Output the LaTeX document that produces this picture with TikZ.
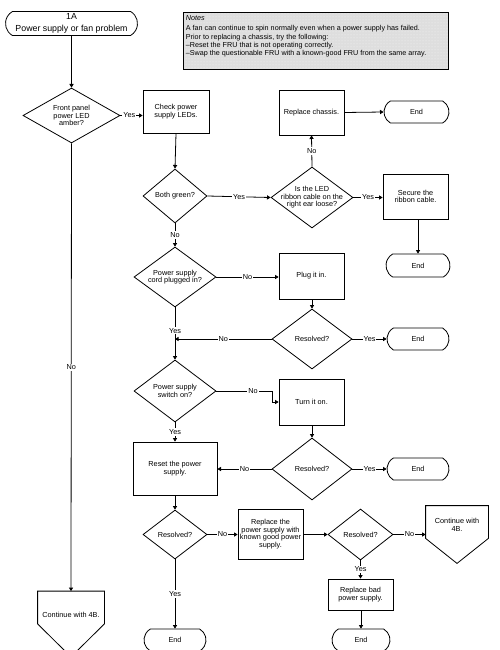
\documentclass[tikz,border=0pt]{standalone}
\usepackage{fontspec}
\setmainfont{Liberation Sans}
\usetikzlibrary{shapes.geometric,shapes.misc,arrows.meta,calc,patterns}
\begin{document}
\begin{tikzpicture}[x=1pt,y=-1pt,line width=0.8pt,
  txt/.style={font=\fontsize{7.3}{7.6}\selectfont, align=center},
  box/.style={txt, draw, rectangle, inner sep=1pt},
  dia/.style={draw, diamond, inner sep=0pt},
  term/.style={txt, draw, rounded rectangle, rounded rectangle arc length=120, inner sep=1pt},
  lbl/.style={txt, fill=white, inner sep=1pt},
  arr/.style={-{Triangle[length=3.6pt,width=4.2pt]}},
  notefont/.style={font=\fontsize{7.2}{6.4}\selectfont, align=left}
]
\fill[white] (0,0) rectangle (499,650);
\useasboundingbox (0,0) rectangle (499,650);

% start
\node[term, font=\fontsize{8.8}{12}\selectfont, minimum width=134, minimum height=24] (start) at (71.5,23.5) {1A\\Power supply or fan problem};

% notes
\node[draw, rectangle, anchor=north west, minimum width=265, minimum height=57, inner sep=0pt,
      preaction={fill=black!13}, pattern=dots, pattern color=white!70!black!13,
      label={[notefont, anchor=north west, inner sep=2pt, xshift=0.5pt, yshift=-0.8pt]north west:{\textit{Notes}\\[3.6pt]A fan can continue to spin normally even when a power supply has failed.\\[1.9pt]Prior to replacing a chassis, try the following:\\--Reset the FRU that is not operating correctly.\\--Swap the questionable FRU with a known-good FRU from the same array.}}] (notes) at (183,12) {};

% column 1
\node[dia, minimum width=97, minimum height=55, label={[txt]center:Front panel\\power LED\\amber?}] (d1) at (71.5,115.5) {};
\node[txt, minimum width=66, minimum height=32, inner sep=0pt, label={[txt, yshift=-7pt]center:Continue with 4B.}] (c4l) at (71,607.5) {};
\draw (c4l.north west) -- (c4l.north east) -- (c4l.south east) -- ($(c4l.south)+(0,33)$) -- (c4l.south west) -- cycle;

% column 2
\node[box, minimum width=66, minimum height=43] (chk) at (176,111.5) {Check power\\supply LEDs.};
\node[dia, minimum width=64, minimum height=54, label={[txt]center:Both green?}] (dg) at (175,196) {};
\node[dia, minimum width=82, minimum height=60, label={[txt]center:Power supply\\cord plugged in?}] (dplug) at (175,277) {};
\node[dia, minimum width=82, minimum height=62, label={[txt]center:Power supply\\switch on?}] (dsw) at (175,391) {};
\node[box, minimum width=84, minimum height=53] (reset) at (175,468.5) {Reset the power\\supply.};
\node[dia, minimum width=64, minimum height=49, label={[txt]center:Resolved?}] (dres3) at (175,534.5) {};
\node[term, minimum width=64, minimum height=22] (end5) at (175,640) {End};

% column 3
\node[box, minimum width=65, minimum height=45] (rch) at (311.5,112.5) {Replace chassis.};
\node[dia, minimum width=82, minimum height=61, label={[txt]center:Is the LED\\ribbon cable on the\\right ear loose?}] (dled) at (312,197.5) {};
\node[box, minimum width=65, minimum height=46] (plug) at (311.5,276) {Plug it in.};
\node[dia, minimum width=80, minimum height=60, label={[txt]center:Resolved?}] (dres1) at (312,339) {};
\node[box, minimum width=65, minimum height=46] (turn) at (311.5,402) {Turn it on.};
\node[dia, minimum width=80, minimum height=62, label={[txt]center:Resolved?}] (dres2) at (312,469) {};
\node[box, minimum width=65, minimum height=50] (rpl) at (270.5,534) {Replace the\\power supply with\\known good power\\supply.};
\node[dia, minimum width=65, minimum height=51, label={[txt]center:Resolved?}] (dres4) at (360.5,534.5) {};
\node[box, minimum width=65, minimum height=31] (rbad) at (360.5,594.5) {Replace bad\\power supply.};
\node[term, minimum width=60, minimum height=22] (end6) at (361,640) {End};

% column 4
\node[term, minimum width=67, minimum height=22] (end1) at (416.5,112) {End};
\node[box, minimum width=65, minimum height=45] (sec) at (415.5,196.5) {Secure the\\ribbon cable.};
\node[term, minimum width=66, minimum height=23] (end2) at (418,265.5) {End};
\node[term, minimum width=64, minimum height=22] (end3) at (418,339) {End};
\node[term, minimum width=64, minimum height=22] (end4) at (418,469) {End};
\node[txt, minimum width=62, minimum height=32, inner sep=0pt, label={[txt, yshift=-3pt]center:Continue with\\4B.}] (c4r) at (457,522) {};
\draw (c4r.north west) -- (c4r.north east) -- (c4r.south east) -- ($(c4r.south)+(0,25)$) -- (c4r.south west) -- cycle;

% connectors
\coordinate (bend) at (272,391);
\draw[arr] (start.south) -- (d1.north);
\draw[arr] (d1.east) -- node[lbl, pos=0.4]{Yes} (chk.west |- d1.east);
\draw[arr] (d1.south) -- node[lbl]{No} (c4l.north);
\draw[arr] (chk.south) -- (dg.north);
\draw[arr] (dg.east) -- node[lbl]{Yes} (dled.west);
\draw[arr] (dled.north) -- node[lbl]{No} (rch.south);
\draw[arr] (rch.east) -- (end1.west);
\draw[arr] (dled.east) -- node[lbl]{Yes} (sec.west |- dled.east);
\draw[arr] (sec.south -| end2.north) -- (end2.north);
\draw[arr] (dg.south) -- node[lbl]{No} (dplug.north);
\draw[arr] (dplug.east) -- node[lbl]{No} (plug.west |- dplug.east);
\draw[arr] (plug.south -| dres1.north) -- (dres1.north);
\draw[arr] (dres1.east) -- node[lbl]{Yes} (end3.west);
\draw[arr] (dres1.west) -- node[lbl]{No} (dres1.west -| dplug.south);
\draw[arr] (dplug.south) -- node[lbl, pos=0.45]{Yes} (dsw.north);
\draw[arr] (dsw.east) -- node[lbl, pos=0.66]{No} (bend) |- (turn.west);
\draw[arr] (turn.south -| dres2.north) -- (dres2.north);
\draw[arr] (dres2.east) -- node[lbl]{Yes} (end4.west);
\draw[arr] (dres2.west) -- node[lbl]{No} (reset.east |- dres2.west);
\draw[arr] (dsw.south) -- node[lbl]{Yes} (reset.north);
\draw[arr] (reset.south) -- (dres3.north);
\draw[arr] (dres3.east) -- node[lbl]{No} (rpl.west |- dres3.east);
\draw[arr] (dres3.south) -- node[lbl]{Yes} (end5.north);
\draw[arr] (rpl.east |- dres4.west) -- (dres4.west);
\draw[arr] (dres4.east) -- node[lbl]{No} (dres4.east -| c4r.west);
\draw[arr] (dres4.south) -- node[lbl]{Yes} (rbad.north);
\draw[arr] (rbad.south -| end6.north) -- (end6.north);
\end{tikzpicture}
\end{document}
